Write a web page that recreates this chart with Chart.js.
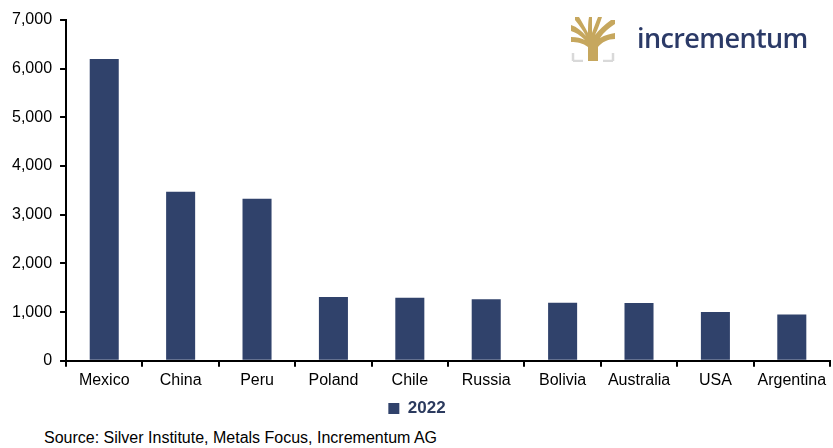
<!DOCTYPE html>
<html>
<head>
<meta charset="utf-8">
<script src="https://cdn.jsdelivr.net/npm/chart.js@4"></script>
<style>
  body { margin: 0; background: #fff; font-family: "Liberation Sans", Arial, sans-serif; }
  #wrap { position: relative; width: 833px; height: 448px; }
  #box { position: absolute; left: 0; top: 0; width: 833px; height: 427px; }
  #source { position: absolute; left: 44px; top: 429px; font-size: 16px; color: #000; }
  #logo { position: absolute; left: 571px; top: 17px; display: flex; align-items: center; }
  #logo span { margin-left: 22px; margin-top: -4px; font: 600 27px "Open Sans", "Liberation Sans", sans-serif; color: #2b3a67; letter-spacing: -0.6px; }
</style>
</head>
<body>
<div id="wrap">
  <div id="box"><canvas id="chart"></canvas></div>
  <div id="logo">
    <svg width="44" height="45" viewBox="0 0 44 45">
      <path d="M2 44 V36 M2 44 H12 M42 44 V36 M42 44 H32" stroke="#d9d9d9" stroke-width="2.5" fill="none"/>
      <path d="M17 44 V30 C12 26 6 25 0 25 V20 C6 20 10 21 14 23 C9 18 4 15 0 14 V8 C6 10 11 14 15 19 C12 13 8 8 4 3 V0 H8 C11 5 14 10 17 16 C17 10 17 5 18 0 H21 C21 6 21 11 21 16 C23 10 25 5 27 0 H31 C29 6 27 12 24 18 C28 13 33 8 40 3 H44 V7 C38 11 33 15 29 21 C34 18 39 17 44 16 V22 C37 22 31 25 27 30 V44 Z" fill="#c6a75e"/>
    </svg>
    <span>incrementum</span>
  </div>
  <div id="source">Source: Silver Institute, Metals Focus, Incrementum AG</div>
</div>
<script>
// Silver mine production 2022 by country (tonnes).
const countries = ["Mexico", "China", "Peru", "Poland", "Chile", "Russia", "Bolivia", "Australia", "USA", "Argentina"];
const output2022 = [6200, 3470, 3330, 1310, 1295, 1265, 1190, 1185, 1000, 950];
const seriesLabel = "2022";

const NAVY = "#30426b";
const fmt = (v) => Number(v).toLocaleString("en-US");

new Chart(document.getElementById("chart"), {
  type: "bar",
  data: {
    labels: countries,
    datasets: [{
      label: seriesLabel,
      data: output2022,
      backgroundColor: NAVY,
      borderWidth: 0,
      categoryPercentage: 0.38,
      barPercentage: 1,
    }],
  },
  options: {
    responsive: true,
    maintainAspectRatio: false,
    animation: false,
    layout: { padding: { left: 4, right: 3, top: 20, bottom: 0 } },
    plugins: {
      tooltip: { enabled: false },
      legend: {
        position: "bottom",
        labels: {
          color: "#2b3a5e",
          boxWidth: 11,
          boxHeight: 11,
          padding: 6,
          font: { family: "Liberation Sans", size: 17, weight: "bold" },
        },
      },
    },
    scales: {
      x: {
        border: { color: "#000", width: 2 },
        grid: { offset: true, drawOnChartArea: false, drawTicks: true, tickLength: 6, color: "#000", lineWidth: 2 },
        ticks: { color: "#000", padding: 4, maxRotation: 0, font: { family: "Liberation Sans", size: 16 } },
      },
      y: {
        min: 0,
        max: 7000,
        border: { color: "#000", width: 2 },
        grid: { drawOnChartArea: false, drawTicks: true, tickLength: 6, color: "#000", lineWidth: 2 },
        ticks: { stepSize: 1000, color: "#000", padding: 8, callback: (v) => fmt(v), font: { family: "Liberation Sans", size: 16 } },
      },
    },
  },
});
</script>
</body>
</html>
